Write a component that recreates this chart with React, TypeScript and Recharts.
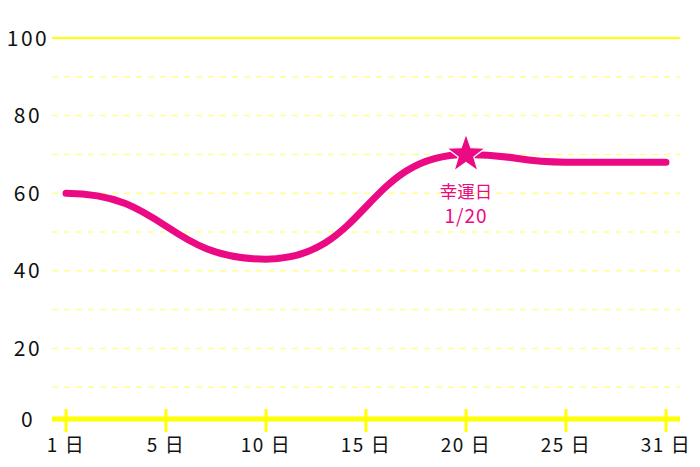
import React from 'react';
import {
  LineChart,
  Line,
  XAxis,
  YAxis,
  ReferenceLine,
} from 'recharts';

const DAYS = ['1', '5', '10', '15', '20', '25', '31'];
// values only on the key days; 5 and 15 are axis ticks without a point
const LUCK: (number | null)[] = [60, null, 43, null, 70, 68, 68];
const Y_TICKS = [0, 20, 40, 60, 80, 100];
const GRID_VALUES = [10, 20, 30, 40, 50, 60, 70, 80, 90];
const LUCKY_DAY = '20';
const LUCKY_LABEL = ['幸運日', '1/20'];
const AXIS_VALUE = 1.8;

const PINK = '#eb0a84';
const YELLOW = '#ffff00';
const GRID_YELLOW = '#ffff8a';
const FONT = '"Noto Sans CJK JP", "Noto Sans", sans-serif';

const data = DAYS.map((day, i) => ({ day, value: LUCK[i] }));

const starPoints = (cx: number, cy: number, outer: number, inner: number) => {
  const pts: string[] = [];
  for (let i = 0; i < 10; i++) {
    const r = i % 2 === 0 ? outer : inner;
    const a = (Math.PI / 5) * i - Math.PI / 2;
    pts.push(`${cx + r * Math.cos(a)},${cy + r * Math.sin(a)}`);
  }
  return pts.join(' ');
};

const renderDot = (props: any) => {
  const { cx, cy, payload, index } = props;
  if (payload?.day !== LUCKY_DAY || cx == null || cy == null) {
    return <g key={`dot-${index}`} />;
  }
  return (
    <g key={`dot-${index}`}>
      <polygon
        points={starPoints(cx, cy, 20.5, 8.2)}
        fill={PINK}
        stroke="#fff"
        strokeWidth={1.2}
      />
      <text
        x={cx}
        y={cy + 44}
        textAnchor="middle"
        fontSize={17.5}
        fill={PINK}
        fontFamily={FONT}
      >
        {LUCKY_LABEL[0]}
      </text>
      <text
        x={cx}
        y={cy + 69}
        textAnchor="middle"
        fontSize={19}
        fill={PINK}
        fontFamily={FONT}
        letterSpacing={1}
      >
        {LUCKY_LABEL[1]}
      </text>
    </g>
  );
};

const renderYTick = (props: any) => {
  const { y, payload } = props;
  // the zero label sits on the drawn axis line
  const ty = payload.value === 0 ? y - 7 : y;
  return (
    <text
      x={28}
      y={ty}
      dy={7.5}
      textAnchor="middle"
      fontSize={21}
      fill="#111"
      fontFamily={FONT}
      letterSpacing={2.5}
    >
      {payload.value}
    </text>
  );
};

const renderXTick = (props: any) => {
  const { x, y, payload } = props;
  return (
    <g>
      <line x1={x} x2={x} y1={y - 17} y2={y + 6} stroke={YELLOW} strokeWidth={3} />
      <text
        x={x}
        y={y + 26}
        textAnchor="middle"
        fontSize={19}
        fill="#111"
        fontFamily={FONT}
        letterSpacing={1.5}
      >
        {`${payload.value} 日`}
      </text>
    </g>
  );
};

export default function App() {
  return (
    <div style={{ position: 'absolute', left: 0, top: 0, background: '#fff' }}>
      <LineChart
        width={700}
        height={467}
        data={data}
        margin={{ top: 38, right: 20, bottom: 0, left: 0 }}
      >
        <XAxis
          dataKey="day"
          height={41}
          axisLine={false}
          tickLine={false}
          tickSize={0}
          tickMargin={0}
          padding={{ left: 14, right: 14 }}
          tick={renderXTick}
          interval={0}
        />
        <YAxis
          width={52}
          domain={[0, 100]}
          ticks={Y_TICKS}
          axisLine={false}
          tickLine={false}
          tick={renderYTick}
        />
        {GRID_VALUES.map((v) => (
          <ReferenceLine
            key={v}
            y={v}
            stroke={GRID_YELLOW}
            strokeWidth={1.5}
            strokeDasharray="6 6"
          />
        ))}
        <ReferenceLine y={100} stroke={YELLOW} strokeWidth={2} />
        <ReferenceLine y={AXIS_VALUE} stroke={YELLOW} strokeWidth={5} />
        <Line
          type="bumpX"
          dataKey="value"
          connectNulls
          stroke={PINK}
          strokeWidth={7}
          strokeLinecap="round"
          dot={renderDot}
          activeDot={false}
          isAnimationActive={false}
        />
      </LineChart>
    </div>
  );
}
